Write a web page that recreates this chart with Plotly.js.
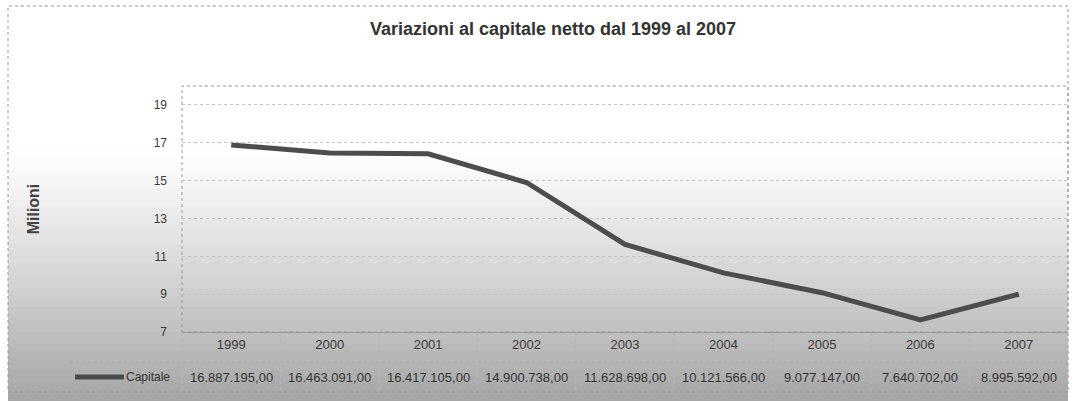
<!DOCTYPE html>
<html><head><meta charset="utf-8">
<script src="https://cdn.plot.ly/plotly-3.0.1.min.js"></script>
<style>html,body{margin:0;padding:0;background:#fff}#chart{width:1075px;height:401px}</style>
</head><body><div id="chart"></div>
<script>
const years = ['1999','2000','2001','2002','2003','2004','2005','2006','2007'];
const capitale = [16887195, 16463091, 16417105, 14900738, 11628698, 10121566, 9077147, 7640702, 8995592];
const seriesName = 'Capitale';
const yTicks = [7, 9, 11, 13, 15, 17, 19];

const W = 1075, H = 401, L = 182, R = 7, T = 86, B = 69;
const pw = W - L - R, ph = H - T - B;
const px2x = p => (p - L) / pw;
const py2y = p => (H - B - p) / ph;
const FONT = 'Liberation Sans, Arial, sans-serif';

function fmt(v){
  const s = String(Math.round(v));
  return s.replace(/\B(?=(\d{3})+(?!\d))/g, '.') + ',00';
}

const shapes = [];
// background gradient bands
const g0 = 150, g1 = H, n = 40;
for (let i = 0; i < n; i++) {
  const yA = g0 + (g1 - g0) * i / n, yB = g0 + (g1 - g0) * (i + 1) / n + 1;
  const t = (i + 0.5) / n;
  const c = Math.round(255 - 90 * Math.pow(t, 1.1));
  shapes.push({type:'rect', xref:'paper', yref:'paper', layer:'below',
    x0: px2x(8), x1: px2x(1068), y0: py2y(yB), y1: py2y(yA),
    fillcolor:`rgb(${c},${c},${c})`, line:{width:0}});
}
// outer dotted border
shapes.push({type:'rect', xref:'paper', yref:'paper', layer:'below',
  x0: px2x(8), x1: px2x(1068), y0: py2y(392), y1: py2y(6),
  line:{color:'#999', width:1, dash:'dot'}});
// plot area border
shapes.push({type:'rect', xref:'paper', yref:'paper', layer:'below',
  x0: 0, x1: 1, y0: 0, y1: 1, line:{color:'#999', width:1, dash:'dot'}});
// table lines
[362, 390].forEach(p => shapes.push({type:'line', xref:'paper', yref:'paper', layer:'below',
  x0: px2x(70), x1: 1, y0: py2y(p), y1: py2y(p), line:{color:'#aaa', width:1, dash:'dot'}}));
for (let i = 0; i <= years.length; i++) {
  shapes.push({type:'line', xref:'paper', yref:'paper', layer:'below',
    x0: i / years.length, x1: i / years.length, y0: py2y(390), y1: 0,
    line:{color:'#b5b5b5', width:1, dash:'dot'}});
}
// legend key line
shapes.push({type:'line', xref:'paper', yref:'paper',
  x0: px2x(75), x1: px2x(124), y0: py2y(377), y1: py2y(377),
  line:{color:'#4a4a4a', width:5}});

const annotations = [];
annotations.push({xref:'paper', yref:'paper', x: px2x(124), y: py2y(377), text: seriesName,
  showarrow:false, xanchor:'left', yanchor:'middle',
  font:{family:FONT, size:12, color:'#333'}});
years.forEach((yr, i) => annotations.push({xref:'x', yref:'paper', x: i, y: py2y(377),
  text: fmt(capitale[i]), showarrow:false, xanchor:'center', yanchor:'middle',
  font:{family:FONT, size:13, color:'#333'}}));

const trace = {
  x: years, y: capitale.map(v => v / 1e6), type:'scatter', mode:'lines',
  name: seriesName, line:{color:'#4d4d4d', width:5}, hoverinfo:'skip'
};

const layout = {
  width: W, height: H,
  margin:{l:L, r:R, t:T, b:B, pad:0},
  paper_bgcolor:'#fff', plot_bgcolor:'rgba(0,0,0,0)',
  showlegend:false,
  title:{text:'<b>Variazioni al capitale netto dal 1999 al 2007</b>', x: 553 / W,
    xanchor:'center', y: 1 - 29 / H, yanchor:'middle',
    font:{family:FONT, size:18, color:'#333'}},
  xaxis:{type:'category', range:[-0.5, years.length - 0.5], showgrid:false, zeroline:false,
    showline:true, linecolor:'#999', ticks:'', tickfont:{family:FONT, size:13, color:'#3a3a3a'}},
  yaxis:{range:[7, 20], tickvals:yTicks, ticktext:yTicks.map(String), showgrid:true,
    gridcolor:'#c4c4c4', griddash:'dot', gridwidth:1, zeroline:false, showline:false, ticks:'',
    ticklabelstandoff: 14,
    tickfont:{family:FONT, size:12, color:'#3a3a3a'},
    title:{text:'<b>Milioni</b>', standoff: 110, font:{family:FONT, size:16, color:'#444'}}},
  shapes, annotations
};

Plotly.newPlot('chart', [trace], layout, {displayModeBar:false, staticPlot:true});
</script></body></html>
